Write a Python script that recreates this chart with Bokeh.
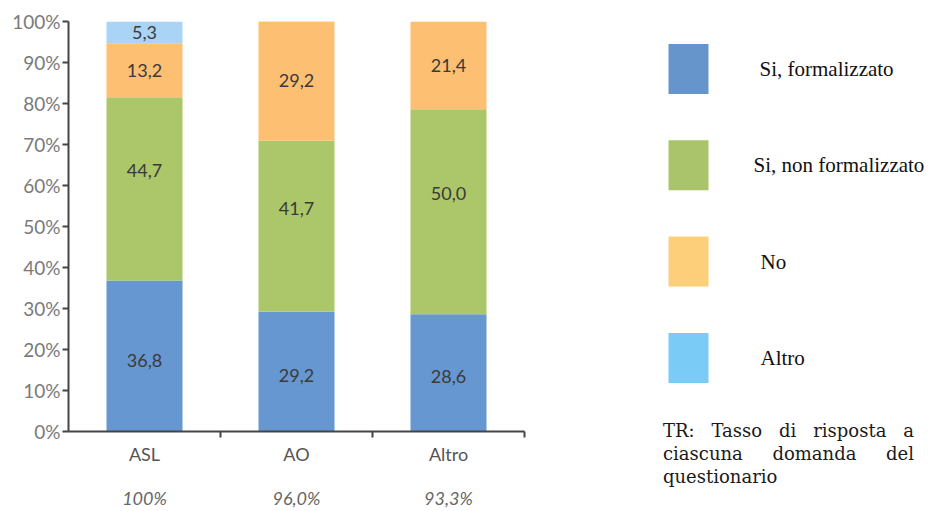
from bokeh.plotting import figure
from bokeh.models import (ColumnDataSource, FixedTicker, LinearAxis, Range1d,
                          PrintfTickFormatter, Label, Div)
from bokeh.layouts import row, column
from bokeh.core.properties import value
from bokeh.embed import file_html
from bokeh.resources import INLINE

# Survey answers by type of health organisation (percent of respondents)
categories = ["ASL", "AO", "Altro"]
response_rate = ["100%", "96,0%", "93,3%"]
series_names = ["Si, formalizzato", "Si, non formalizzato", "No", "Altro"]
si_formalizzato = [36.8, 29.2, 28.6]
si_non_formalizzato = [44.7, 41.7, 50.0]
no = [13.2, 29.2, 21.4]
altro = [5.3, 0.0, 0.0]
y_ticks = list(range(0, 101, 10))

bar_colors = ["#6797d0", "#abc769", "#fdbf71", "#a9d4f6"]
legend_colors = ["#6595cb", "#a9c46a", "#fdcf7a", "#7acbf5"]
label_shift = [4, -18, 0, 0]  # vertical nudge of the value labels, per series (px, down)

AXIS = "#454545"
TICK_TEXT = "#7a7a7a"
SANS = "Lato"

xs = [i + 0.5 for i in range(len(categories))]
keys = ["s1", "s2", "s3", "s4"]
values = [si_formalizzato, si_non_formalizzato, no, altro]
src = ColumnDataSource(dict(x=xs, s1=si_formalizzato, s2=si_non_formalizzato,
                            s3=no, s4=altro))

p = figure(width=560, height=511, x_range=Range1d(0, 3), y_range=Range1d(0, 100),
           output_backend="svg", toolbar_location=None,
           min_border_left=68, min_border_right=36, min_border_top=21,
           min_border_bottom=79)
p.outline_line_color = None
p.grid.visible = False

p.vbar_stack(keys, x="x", width=0.5, color=bar_colors, line_color=None, source=src)

# value labels inside each segment
lx, ly, lt, lo = [], [], [], []
for i in range(len(categories)):
    base = 0.0
    for s, vals in enumerate(values):
        v = vals[i]
        if v > 0:
            lx.append(xs[i])
            ly.append(base + v / 2)
            lt.append(f"{v:.1f}".replace(".", ","))
            lo.append(label_shift[s])
        base += v
p.text(x="x", y="y", text="t", y_offset="o",
       source=ColumnDataSource(dict(x=lx, y=ly, t=lt, o=lo)),
       text_align="center", text_baseline="middle", text_font=value(SANS),
       text_font_size="18px", text_color="#3a3a3a")

# y axis
p.yaxis.ticker = FixedTicker(ticks=y_ticks)
p.yaxis.formatter = PrintfTickFormatter(format="%d%%")
p.yaxis.axis_line_color = AXIS
p.yaxis.axis_line_width = 2
p.yaxis.major_tick_line_color = AXIS
p.yaxis.major_tick_line_width = 2
p.yaxis.major_tick_out = 6
p.yaxis.major_tick_in = 0
p.yaxis.minor_tick_line_color = None
p.yaxis.major_label_text_font = SANS
p.yaxis.major_label_text_font_size = "19px"
p.yaxis.major_label_text_color = TICK_TEXT
p.yaxis.major_label_standoff = 2

# x axis: category names at bar centres, tick marks between categories
p.xaxis.ticker = FixedTicker(ticks=xs, minor_ticks=[i + 1 for i in range(len(categories))])
p.xaxis.major_label_overrides = {x: c for x, c in zip(xs, categories)}
p.xaxis.axis_line_color = AXIS
p.xaxis.axis_line_width = 2
p.xaxis.major_tick_line_color = None
p.xaxis.major_tick_out = 0
p.xaxis.minor_tick_line_color = AXIS
p.xaxis.minor_tick_line_width = 2
p.xaxis.minor_tick_out = 6
p.xaxis.minor_tick_in = 0
p.xaxis.major_label_text_font = SANS
p.xaxis.major_label_text_font_size = "18px"
p.xaxis.major_label_text_color = "#555555"
p.xaxis.major_label_standoff = 5

# response-rate row
tr_axis = LinearAxis(ticker=FixedTicker(ticks=xs),
                     major_label_overrides={x: r for x, r in zip(xs, response_rate)})
tr_axis.axis_line_color = None
tr_axis.major_tick_line_color = None
tr_axis.minor_tick_line_color = None
tr_axis.major_tick_out = 0
tr_axis.major_label_text_font = SANS
tr_axis.major_label_text_font_size = "18px"
tr_axis.major_label_text_font_style = "italic"
tr_axis.major_label_text_color = "#666666"
tr_axis.major_label_standoff = 19
p.add_layout(tr_axis, "below")

p.add_layout(Label(x=-0.15, y=-15.8, text="TR", text_align="center",
                   text_baseline="middle", text_font=SANS, text_font_size="18px",
                   text_font_style="italic", text_color="#666666"))

# legend panel
leg = figure(width=368, height=415, x_range=Range1d(560, 928), y_range=Range1d(415, 0),
             output_backend="svg", toolbar_location=None,
             min_border=0, x_axis_type=None, y_axis_type=None)
leg.outline_line_color = None
leg.grid.visible = False
step = 96.3
ys = [68.5 + step * i for i in range(len(series_names))]
leg.rect(x=[688] * len(ys), y=ys, width=40, height=50, color=legend_colors, line_color=None)
leg.text(x=[759, 753, 760, 760], y=ys, text=series_names,
         text_baseline="middle", text_font=value("Liberation Serif"),
         text_font_size="21px", text_color="#111111")

note = Div(text="TR: Tasso di risposta a ciascuna domanda del questionario",
           width=251, margin=(4, 0, 0, 103),
           styles={"text-align": "justify", "font-family": "DejaVu Serif",
                   "font-size": "18px", "line-height": "23px", "color": "#1a1a1a",
                   "text-align-last": "left"})

layout = row(p, column(leg, note, spacing=0), spacing=0)
open("out.html", "w").write(file_html(layout, INLINE))
